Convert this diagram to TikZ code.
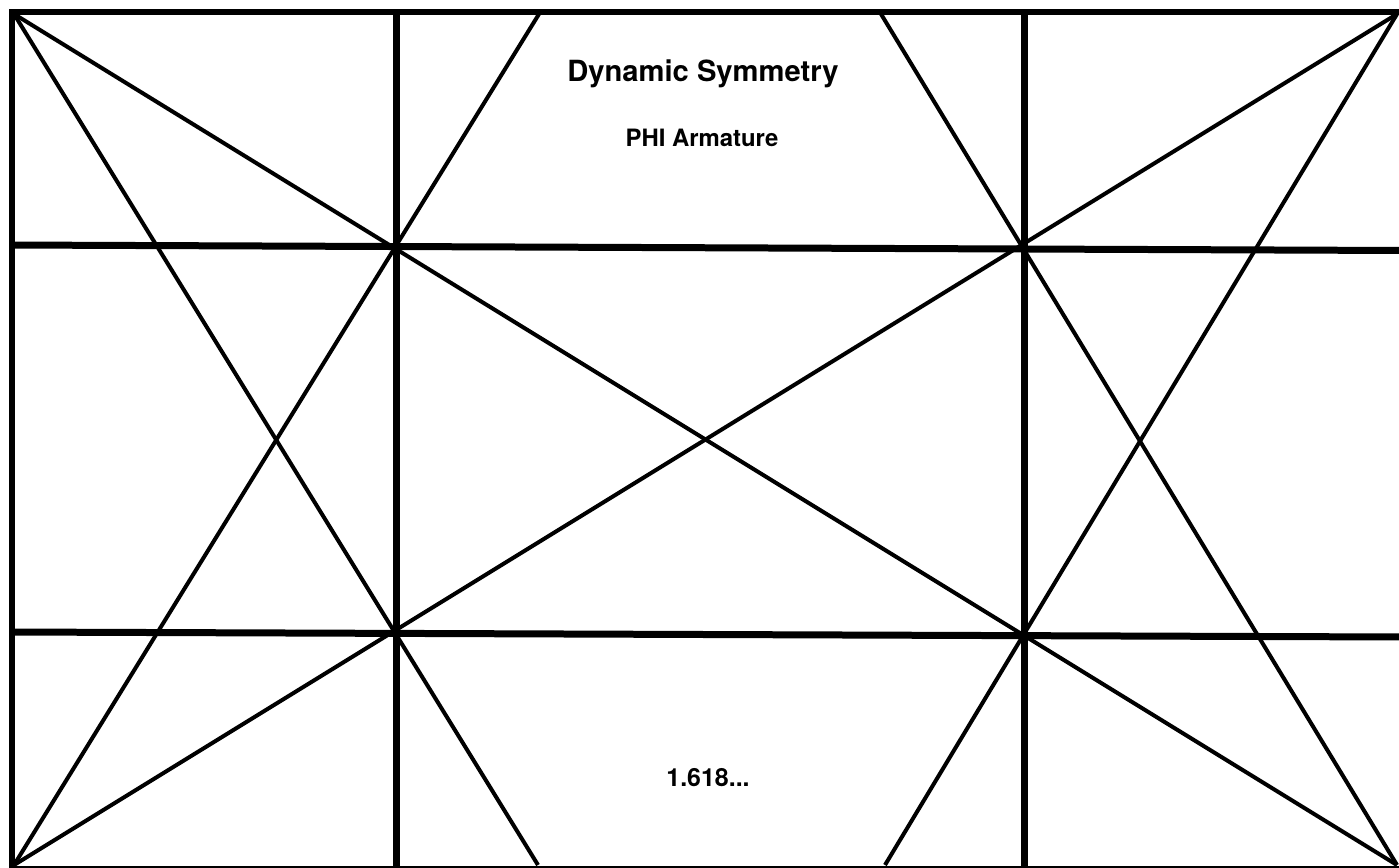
\documentclass[tikz,border=0pt]{standalone}
\usepackage{fontspec}
\newfontfamily\lblfont{TeX Gyre Heros}
\usepackage{tikz}
\usetikzlibrary{calc}

\begin{document}
\begin{tikzpicture}[
  x=0.02cm, y=-0.02cm,
  frame/.style={draw,line width=0.12cm},
  grid/.style={draw,line width=0.14cm},
  diag/.style={draw,line width=0.08cm},
  title/.style={font=\lblfont\bfseries\fontsize{16.6}{20}\selectfont,anchor=base},
  sub/.style={font=\lblfont\bfseries\fontsize{13.6}{16}\selectfont,anchor=base}
]
\useasboundingbox (0,0) rectangle (1399,867);
% corners of the golden rectangle
\coordinate (tl) at (14,14);
\coordinate (tr) at (1397,14);
\coordinate (bl) at (14,865);
\coordinate (br) at (1397,865);
% reciprocal ends on top and bottom edge
\coordinate (t1) at (539,14);
\coordinate (t2) at (881,14);
\coordinate (b1) at (538,865);
\coordinate (b2) at (885,865);
% outer frame (right and bottom run off the page)
\draw[frame] (12,12) rectangle (1404,869);
% armature lines
\draw[grid] (12,245) -- (1404,250.5);
\draw[grid] (12,632) -- (1404,637);
\draw[grid] (396,12) -- (396,869);
\draw[grid] (1024,12) -- (1024,869);
% diagonals and reciprocals
\draw[diag] (tl) -- (br);
\draw[diag] (bl) -- (tr);
\draw[diag] (tl) -- (b1);
\draw[diag] (bl) -- (t1);
\draw[diag] (tr) -- (b2);
\draw[diag] (br) -- (t2);
% labels
\node[title] (head) at (703,81) {Dynamic Symmetry};
\node[sub] (arm) at (702,146) {PHI Armature};
\node[sub,font=\lblfont\bfseries\fontsize{14.2}{16}\selectfont] (ratio) at (708,786) {1.618...};
\end{tikzpicture}
\end{document}
